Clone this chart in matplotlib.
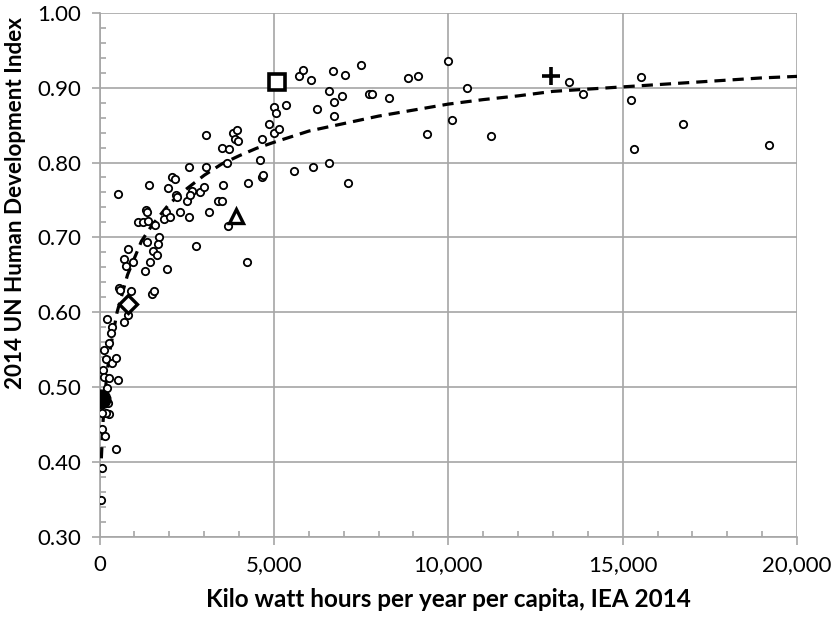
import matplotlib
matplotlib.use("Agg")
import matplotlib.pyplot as plt
from matplotlib.ticker import FuncFormatter, MultipleLocator

# kWh per capita (IEA 2014) and HDI (2014)
kwh = [536, 1425, 2564, 3052, 3662, 4600, 2068, 2162, 1953, 2183,
       2211, 2515, 2641, 2879, 2994, 2593, 3548, 4265, 4649, 4695,
       3404, 3502, 3138, 2306, 1904, 1331, 1351, 1093, 1253, 1397,
       1580, 1847, 2019, 2564, 3691, 1712, 1684, 1368, 806, 1540,
       1638, 700, 749, 967, 1445, 1311, 1942, 2756, 4236, 565,
       585, 909, 1494, 1569, 5002, 5346, 5051, 6244, 6723, 6723,
       4858, 5010, 5145, 3043, 3835, 3932, 3883, 3978, 4649, 3502,
       3720, 5584, 6112, 6588, 7133, 5727, 5842, 6063, 6703, 7029,
       7506, 6588, 6943, 7735, 7821, 8309, 8836, 9123, 9983, 10546,
       10098, 9398, 11234, 13462, 13855, 15527, 15232, 16723, 15327, 19207,
       823, 700, 204, 347, 318, 270, 126, 184, 347, 462,
       106, 126, 278, 536, 204, 250, 270, 184, 60, 60,
       155, 470, 60, 40]
hdi = [0.758, 0.770, 0.794, 0.794, 0.799, 0.803, 0.781, 0.778, 0.766, 0.757,
       0.754, 0.749, 0.762, 0.761, 0.767, 0.757, 0.770, 0.772, 0.781, 0.783,
       0.748, 0.748, 0.734, 0.734, 0.734, 0.737, 0.734, 0.720, 0.721, 0.722,
       0.716, 0.725, 0.727, 0.727, 0.715, 0.700, 0.691, 0.694, 0.685, 0.682,
       0.676, 0.671, 0.662, 0.667, 0.667, 0.655, 0.658, 0.688, 0.667, 0.633,
       0.630, 0.629, 0.625, 0.628, 0.874, 0.877, 0.866, 0.871, 0.881, 0.862,
       0.851, 0.839, 0.845, 0.837, 0.840, 0.843, 0.832, 0.829, 0.831, 0.820,
       0.818, 0.789, 0.794, 0.799, 0.773, 0.916, 0.924, 0.910, 0.922, 0.917,
       0.930, 0.895, 0.889, 0.891, 0.891, 0.886, 0.913, 0.915, 0.936, 0.899,
       0.857, 0.838, 0.836, 0.907, 0.892, 0.914, 0.883, 0.851, 0.818, 0.824,
       0.596, 0.587, 0.591, 0.581, 0.572, 0.559, 0.549, 0.537, 0.532, 0.539,
       0.523, 0.514, 0.512, 0.510, 0.499, 0.479, 0.464, 0.465, 0.466, 0.444,
       0.435, 0.417, 0.392, 0.349]

# dashed trend curve
trend_kwh = [50, 100, 200, 300, 500, 800, 1200, 1500, 2000, 2500,
             3000, 3500, 4000, 4500, 5000, 6000, 7000, 8000, 9000, 10000,
             11000, 12000, 13000, 14000, 15000, 16000, 17000, 18000, 19000, 20000]
trend_hdi = [0.405, 0.455, 0.515, 0.550, 0.600, 0.650, 0.695, 0.716, 0.745, 0.765,
             0.783, 0.798, 0.809, 0.819, 0.827, 0.842, 0.852, 0.862, 0.870, 0.878,
             0.884, 0.889, 0.895, 0.898, 0.901, 0.904, 0.907, 0.910, 0.913, 0.915]

# highlighted countries
circle_pt = (50, 0.484)
diamond_pt = (800, 0.611)
triangle_pt = (3910, 0.728)
square_pt = (5100, 0.907)
plus_pt = (12950, 0.915)

plt.rcParams['font.family'] = ['Lato', 'DejaVu Sans']
grid_col = '#a6a6a6'

fig = plt.figure(figsize=(8.35, 6.18), dpi=100)
ax = fig.add_axes([0.1193, 0.1311, 0.8352, 0.8483])

ax.plot(trend_kwh, trend_hdi, color='black', lw=2.3,
        linestyle=(0, (3.5, 2.2)), zorder=3)
ax.scatter(kwh, hdi, s=28, facecolors='white', edgecolors='black',
           linewidths=1.3, zorder=4)

ax.plot(*circle_pt, 'o', ms=13.5, color='black', zorder=5)
ax.plot(*diamond_pt, 'D', ms=9.5, mfc='white', mec='black', mew=2.4, zorder=5)
ax.plot(*triangle_pt, '^', ms=10, mfc='white', mec='black', mew=2.4, zorder=5)
ax.plot(*square_pt, 's', ms=11, mfc='white', mec='black', mew=2.6, zorder=5)
ax.plot(*plus_pt, '+', ms=13, color='black', mew=2.6, zorder=5)

ax.set_xlim(0, 20000)
ax.set_ylim(0.30, 1.00)
ax.xaxis.set_major_locator(MultipleLocator(5000))
ax.xaxis.set_minor_locator(MultipleLocator(1000))
ax.yaxis.set_major_locator(MultipleLocator(0.1))
ax.yaxis.set_minor_locator(MultipleLocator(0.02))
ax.xaxis.set_major_formatter(FuncFormatter(lambda v, p: f"{v:,.0f}"))
ax.yaxis.set_major_formatter(FuncFormatter(lambda v, p: f"{v:.2f}"))

ax.grid(True, which='major', color=grid_col, lw=1.2)
ax.set_axisbelow(True)
for side in ['top', 'right']:
    ax.spines[side].set_visible(False)
for side in ['left', 'bottom']:
    ax.spines[side].set_color(grid_col)
    ax.spines[side].set_linewidth(1.2)

ax.tick_params(which='major', direction='out', length=6, width=1.2,
               color=grid_col, labelsize=16, pad=7)
ax.tick_params(which='minor', direction='in', length=4.5, width=1.2,
               color=grid_col)

ax.set_xlabel("Kilo watt hours per year per capita, IEA 2014",
              fontsize=17.5, fontweight='bold')
ax.set_ylabel("2014 UN Human Development Index",
              fontsize=16.2, fontweight='bold')
ax.xaxis.set_label_coords(0.5, -0.097)
ax.yaxis.set_label_coords(-0.105, 0.637)

plt.savefig('out.png', dpi=100)
